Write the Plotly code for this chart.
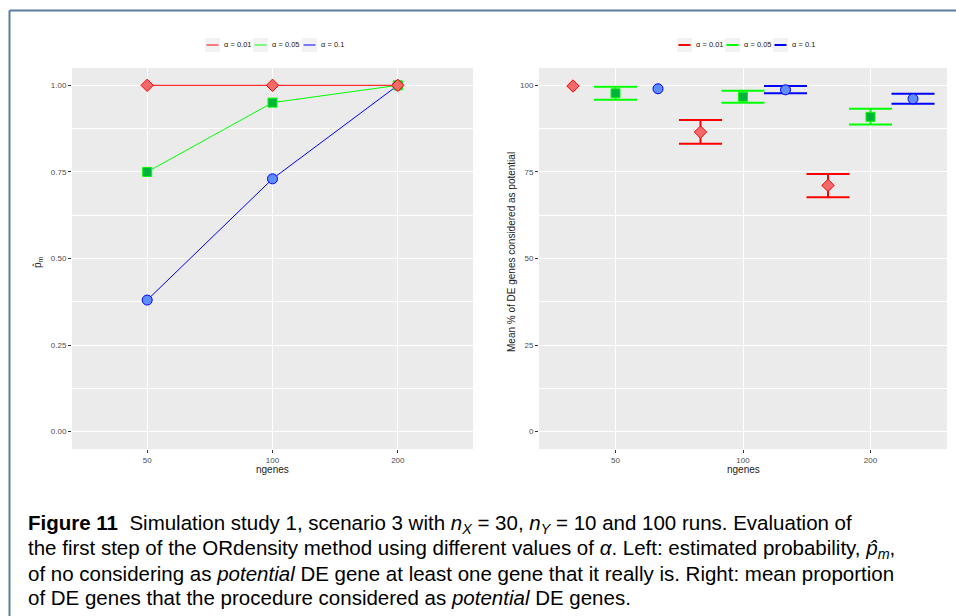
import plotly.graph_objects as go

W, H = 956, 616

# ---------------- data ----------------
ngenes = ["50", "100", "200"]
alpha_labels = ["α = 0.01", "α = 0.05", "α = 0.1"]

# Left panel: estimated probability p_m
p_hat_a001 = [1.00, 1.00, 1.00]
p_hat_a005 = [0.75, 0.95, 1.00]
p_hat_a01 = [0.38, 0.73, 1.00]

# Right panel: mean % of DE genes considered as potential (mean, lower, upper)
mean_a001 = [99.8, 86.5, 71.1]
low_a001 = [None, 83.1, 67.7]
up_a001 = [None, 90.0, 74.4]

mean_a005 = [97.7, 96.7, 90.9]
low_a005 = [95.8, 95.0, 88.7]
up_a005 = [99.6, 98.4, 93.2]

mean_a01 = [99.0, 98.7, 96.1]
low_a01 = [None, 97.7, 94.7]
up_a01 = [None, 99.8, 97.6]

left_tick_vals = [0.0, 0.25, 0.5, 0.75, 1.0]
right_tick_vals = [0, 25, 50, 75, 100]

# ---------------- styles ----------------
line_colors = ["#FF0000", "#00FF00", "#0000FF"]
fill_colors = ["#F46A6A", "#00B33C", "#5E8EFF"]
symbols = ["diamond", "square", "circle"]
msizes = [9.5, 9, 10]


def px(x):
    return x / W


def py(y):
    return 1 - y / H


fig = go.Figure()

# Left panel (drawn blue, green, red so red ends on top)
left_series = [p_hat_a001, p_hat_a005, p_hat_a01]
for k in [2, 1, 0]:
    fig.add_trace(go.Scatter(
        x=ngenes, y=left_series[k], mode="lines+markers", name=alpha_labels[k], showlegend=False,
        line=dict(color=line_colors[k], width=1),
        marker=dict(symbol=symbols[k], size=msizes[k], color=fill_colors[k],
                    line=dict(color=line_colors[k], width=1)),
        xaxis="x", yaxis="y",
    ))

# Right panel (dodged)
dodge = [-1 / 3, 0.0, 1 / 3]
right_means = [mean_a001, mean_a005, mean_a01]
right_lows = [low_a001, low_a005, low_a01]
right_ups = [up_a001, up_a005, up_a01]
for k in range(3):
    means, lows, ups = right_means[k], right_lows[k], right_ups[k]
    xs = [i + dodge[k] for i in range(len(ngenes))]
    idx = [i for i in range(len(means)) if lows[i] is not None and ups[i] is not None]
    # error bars (only where bounds exist)
    fig.add_trace(go.Scatter(
        x=[xs[i] for i in idx], y=[means[i] for i in idx], mode="markers",
        name=alpha_labels[k], showlegend=False, hoverinfo="skip",
        marker=dict(size=1, opacity=0),
        error_y=dict(type="data", symmetric=False,
                     array=[ups[i] - means[i] for i in idx],
                     arrayminus=[means[i] - lows[i] for i in idx],
                     color=line_colors[k], thickness=2, width=21.5),
        xaxis="x2", yaxis="y2",
    ))
    # points
    fig.add_trace(go.Scatter(
        x=xs, y=means, mode="markers", name=alpha_labels[k], showlegend=False,
        marker=dict(symbol=symbols[k], size=msizes[k], color=fill_colors[k],
                    line=dict(color=line_colors[k], width=1)),
        xaxis="x2", yaxis="y2",
    ))

tickfont = dict(family="Liberation Sans, Arial, sans-serif", size=8, color="#4D4D4D")
common_axis = dict(
    showgrid=True, gridcolor="white", gridwidth=1.1, zeroline=False, showline=False,
    ticks="outside", ticklen=3, tickwidth=1, tickcolor="#333333", tickfont=tickfont,
)

L_X = [72, 473]
R_X = [539, 947]
P_Y = [68, 449]

fig.update_layout(
    width=W, height=H,
    margin=dict(l=0, r=0, t=0, b=0),
    paper_bgcolor="white", plot_bgcolor="#EBEBEB",
    showlegend=False,
    xaxis=dict(domain=[px(L_X[0]), px(L_X[1])], type="category",
               categoryorder="array", categoryarray=ngenes,
               range=[-0.6, 2.6], anchor="y", **common_axis),
    yaxis=dict(domain=[py(P_Y[1]), py(P_Y[0])], range=[-0.05, 1.05],
               tickvals=left_tick_vals, tickformat=".2f", anchor="x",
               minor=dict(tickmode="linear", tick0=0, dtick=0.125, showgrid=True,
                          gridcolor="white", gridwidth=0.5, ticks=""),
               **common_axis),
    xaxis2=dict(domain=[px(R_X[0]), px(R_X[1])], range=[-0.6, 2.6],
                tickvals=list(range(len(ngenes))), ticktext=ngenes, anchor="y2", **common_axis),
    yaxis2=dict(domain=[py(P_Y[1]), py(P_Y[0])], range=[-5, 105],
                tickvals=right_tick_vals, anchor="x2",
                minor=dict(tickmode="linear", tick0=0, dtick=12.5, showgrid=True,
                           gridcolor="white", gridwidth=0.5, ticks=""),
                **common_axis),
)

ann = []
shapes = []
title_font = dict(family="Liberation Sans, Arial, sans-serif", size=10, color="#1A1A1A")

# axis titles
for cx in [(L_X[0] + L_X[1]) / 2, (R_X[0] + R_X[1]) / 2]:
    ann.append(dict(x=px(cx), y=py(469), xref="paper", yref="paper", text="ngenes",
                    showarrow=False, font=title_font, xanchor="center", yanchor="middle"))
ann.append(dict(x=px(38), y=py(262), xref="paper", yref="paper", text="p̂<sub>m</sub>",
                showarrow=False, font=title_font, textangle=-90, xanchor="center", yanchor="middle"))
ann.append(dict(x=px(511), y=py(252), xref="paper", yref="paper",
                text="Mean % of DE genes considered as potential",
                showarrow=False, font=title_font, textangle=-90, xanchor="center", yanchor="middle"))

# manual legends (ggplot-style keys)
leg_font = dict(family="Liberation Sans, Arial, sans-serif", size=7.5, color="#1A1A1A")
legend_specs = [
    ([205, 253, 302], 1),
    ([677, 725, 773], 2),
]
for starts, lw in legend_specs:
    for x0, lc, lab in zip(starts, line_colors, alpha_labels):
        shapes.append(dict(type="rect", xref="paper", yref="paper",
                           x0=px(x0), x1=px(x0 + 15), y0=py(52), y1=py(38),
                           fillcolor="#F2F2F2", line=dict(width=0), layer="above"))
        shapes.append(dict(type="line", xref="paper", yref="paper",
                           x0=px(x0 + 1.5), x1=px(x0 + 13.5), y0=py(45), y1=py(45),
                           line=dict(color=lc, width=lw), layer="above"))
        ann.append(dict(x=px(x0 + 17), y=py(45), xref="paper", yref="paper", text=lab,
                        showarrow=False, font=leg_font, xanchor="left", yanchor="middle"))

# figure frame
frame = "#5A7C9E"
shapes.append(dict(type="line", xref="paper", yref="paper", x0=px(9.5), x1=px(9.5),
                   y0=py(616), y1=py(10.5), line=dict(color=frame, width=2)))
shapes.append(dict(type="line", xref="paper", yref="paper", x0=px(9.5), x1=px(956),
                   y0=py(10.5), y1=py(10.5), line=dict(color=frame, width=2)))

# caption
cap_font = dict(family="Liberation Sans, Arial, sans-serif", size=20.5, color="black")
caption_lines = [
    "<b>Figure 11</b>  Simulation study 1, scenario 3 with <i>n<sub>X</sub></i> = 30, "
    "<i>n<sub>Y</sub></i> = 10 and 100 runs. Evaluation of",
    "the first step of the ORdensity method using different values of <i>α</i>. "
    "Left: estimated probability, <i>p̂<sub>m</sub></i>,",
    "of no considering as <i>potential</i> DE gene at least one gene that it really is. "
    "Right: mean proportion",
    "of DE genes that the procedure considered as <i>potential</i> DE genes.",
]
for i, line in enumerate(caption_lines):
    ann.append(dict(x=px(26), y=py(524 + 24.5 * i), xref="paper", yref="paper", text=line,
                    showarrow=False, font=cap_font, xanchor="left", yanchor="middle", align="left"))

fig.update_layout(annotations=ann, shapes=shapes)
fig.write_html("out.html")
